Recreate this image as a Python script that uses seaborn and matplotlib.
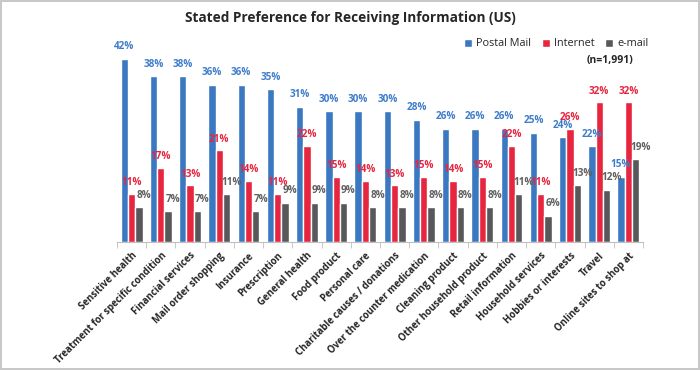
import pandas as pd
import seaborn as sns
import matplotlib.pyplot as plt
from matplotlib.patches import Patch

# ---------------- Data ----------------
categories = [
    "Sensitive health", "Treatment for specific condition", "Financial services",
    "Mail order shopping", "Insurance", "Prescription", "General health",
    "Food product", "Personal care", "Charitable causes / donations",
    "Over the counter medication", "Cleaning product", "Other household product",
    "Retail information", "Household services", "Hobbies or interests",
    "Travel", "Online sites to shop at",
]
postal_mail = [42, 38, 38, 36, 36, 35, 31, 30, 30, 30, 28, 26, 26, 26, 25, 24, 22, 15]
internet = [11, 17, 13, 21, 14, 11, 22, 15, 14, 13, 15, 14, 15, 22, 11, 26, 32, 32]
email = [8, 7, 7, 11, 7, 9, 9, 9, 8, 8, 8, 8, 8, 11, 6, 13, 12, 19]
series = ["Postal Mail", "Internet", "e-mail"]

bar_colors = ["#3B78C2", "#E8253F", "#58585A"]
label_colors = ["#3F7DCB", "#E8253F", "#606060"]

df = pd.DataFrame({
    "category": categories * 3,
    "series": [series[0]] * 18 + [series[1]] * 18 + [series[2]] * 18,
    "value": postal_mail + internet + email,
})

# ---------------- Plot ----------------
sns.set_style("white")
plt.rcParams["font.family"] = ["Open Sans", "DejaVu Sans"]

fig = plt.figure(figsize=(7, 3.7), dpi=100)
fig.patch.set_edgecolor("#C8C8C8")
fig.patch.set_linewidth(1.5)
ax = fig.add_axes([117 / 700, 128 / 370, 526 / 700, 202 / 370])

sns.barplot(data=df, x="category", y="value", hue="series", hue_order=series,
            palette=bar_colors, width=0.75, saturation=1, ax=ax, legend=False)

ax.set_xlim(-0.5, 17.5)
ax.set_ylim(0, 46.3)
ax.set_xlabel("")
ax.set_ylabel("")
ax.set_yticks([])
for s in ["top", "right", "left"]:
    ax.spines[s].set_visible(False)
ax.spines["bottom"].set_color("#BFBFBF")

ax.set_xticks(range(18))
ax.set_xticklabels(categories, rotation=45, ha="right", rotation_mode="anchor",
                   fontsize=6.9, fontweight="bold")
ax.set_xticks([i - 0.5 for i in range(19)], minor=True)
ax.tick_params(axis="x", which="major", length=0, pad=6)
ax.tick_params(axis="x", which="minor", length=4, color="#BFBFBF", bottom=True)

# value labels
offsets = [(0, 8.6), (0, 8), (3.5, 8.6)]
for cont, col, off in zip(ax.containers, label_colors, offsets):
    for bar in cont:
        h = bar.get_height()
        ax.annotate(f"{h:.0f}%", (bar.get_x() + bar.get_width() / 2, h),
                    xytext=off, textcoords="offset points", ha="center", va="center",
                    color=col, fontsize=7.2, fontweight="bold")

# legend
handles = [Patch(facecolor=c) for c in bar_colors]
fig.legend(handles, series, loc="center left", bbox_to_anchor=(460 / 700, 1 - 44 / 370),
           ncol=3, frameon=False, fontsize=7.8, handlelength=0.7, handleheight=0.7,
           handletextpad=0.4, columnspacing=1.0, borderaxespad=0)
fig.text(610 / 700, 1 - 60 / 370, "(n=1,991)", ha="center", va="center",
         fontsize=7.5, fontweight="bold", color="#262626")

fig.text(0.5, 1 - 18 / 370, "Stated Preference for Receiving Information (US)",
         ha="center", va="center", fontsize=9.8, fontweight="bold")

fig.savefig("out.png", dpi=100)
